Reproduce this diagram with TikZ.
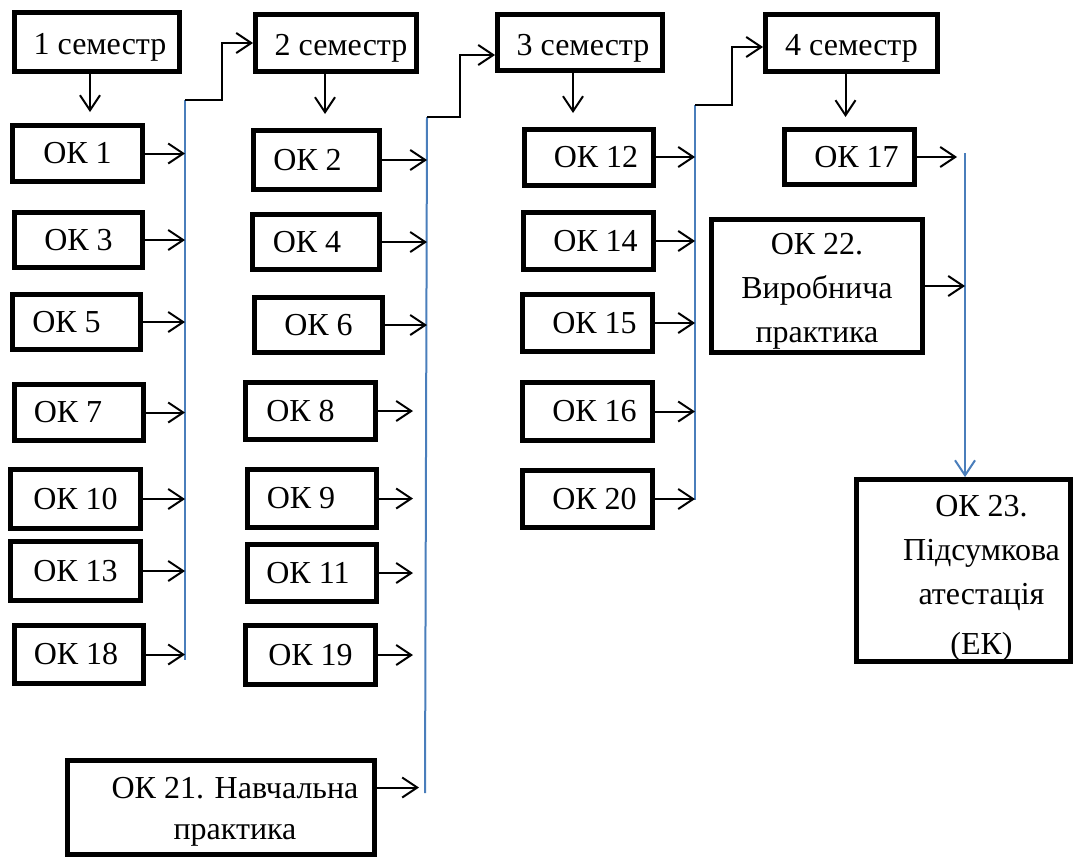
\documentclass[tikz,border=0pt]{standalone}
\usepackage{fontspec}
\setmainfont{Liberation Serif}
\usetikzlibrary{arrows.meta}
\definecolor{lineblue}{RGB}{74,126,187}
\begin{document}
\begin{tikzpicture}[x=1pt,y=-1pt,
  box/.style={draw, line width=5pt, inner sep=0pt, align=center, font=\fontsize{32}{44}\selectfont},
  arr/.style={line width=2pt, -{Straight Barb[length=15pt,width=20pt]}},
  bline/.style={lineblue, line width=2pt}]
\useasboundingbox (0,0) rectangle (1075,857);

% semester boxes
\node[box, minimum width=165pt, minimum height=59pt] (sem1) at (97,42) {\rule{0pt}{32pt}\hspace*{6pt}1 семестр};
\node[box, minimum width=161pt, minimum height=57pt] (sem2) at (336,43) {\rule{0pt}{32pt}\hspace*{10pt}2 семестр};
\node[box, minimum width=165pt, minimum height=56pt] (sem3) at (580,42.5) {\rule{0pt}{32pt}\hspace*{6pt}3 семестр};
\node[box, minimum width=172pt, minimum height=57pt] (sem4) at (851.5,43) {\rule{0pt}{32pt}4 семестр};

% column 1
\node[box, minimum width=130pt, minimum height=56pt] (ok1) at (77.5,153.5) {ОК 1};
\node[box, minimum width=128pt, minimum height=55pt] (ok3) at (78.5,240) {ОК 3};
\node[box, minimum width=128pt, minimum height=55pt] (ok5) at (76.5,322) {ОК 5\hspace*{20pt}};
\node[box, minimum width=129pt, minimum height=56pt] (ok7) at (79,412.5) {ОК 7\hspace*{22pt}};
\node[box, minimum width=130pt, minimum height=59pt] (ok10) at (75.5,499) {ОК 10};
\node[box, minimum width=130pt, minimum height=59pt] (ok13) at (75.5,571) {ОК 13};
\node[box, minimum width=129pt, minimum height=58pt] (ok18) at (79,654.5) {ОК 18\hspace*{6pt}};

% column 2
\node[box, minimum width=126pt, minimum height=59pt] (ok2) at (316.5,160) {ОК 2\hspace*{18pt}};
\node[box, minimum width=127pt, minimum height=55pt] (ok4) at (316,242) {ОК 4\hspace*{18pt}};
\node[box, minimum width=128pt, minimum height=55pt] (ok6) at (318.5,325) {ОК 6};
\node[box, minimum width=130pt, minimum height=57pt] (ok8) at (310.5,411) {ОК 8\hspace*{20pt}};
\node[box, minimum width=129pt, minimum height=58pt] (ok9) at (312,498.5) {ОК 9\hspace*{22pt}};
\node[box, minimum width=129pt, minimum height=57pt] (ok11) at (312,573) {ОК 11\hspace*{8pt}};
\node[box, minimum width=130pt, minimum height=59pt] (ok19) at (310.5,655) {ОК 19};

% column 3
\node[box, minimum width=129pt, minimum height=56pt] (ok12) at (588.5,157) {\hspace*{15pt}ОК 12};
\node[box, minimum width=130pt, minimum height=57pt] (ok14) at (588,241) {\hspace*{15pt}ОК 14};
\node[box, minimum width=130pt, minimum height=57pt] (ok15) at (587.5,323) {\hspace*{14pt}ОК 15};
\node[box, minimum width=130pt, minimum height=58pt] (ok16) at (587.5,411.5) {\hspace*{14pt}ОК 16};
\node[box, minimum width=130pt, minimum height=57pt] (ok20) at (587.5,499) {\hspace*{14pt}ОК 20};

% column 4
\node[box, minimum width=130pt, minimum height=55pt] (ok17) at (849.5,157) {\hspace*{14pt}ОК 17};
\node[box, minimum width=211pt, minimum height=133pt] (ok22) at (817,286) {\rule{0pt}{31pt}ОК 22.\\Виробнича\\практика};
\node[box, minimum width=214pt, minimum height=178pt] (ok23) at (963.5,570.5)
  {\rule{0pt}{37pt}\hspace*{36pt}ОК 23.\\\hspace*{36pt}Підсумкова\\\hspace*{36pt}атестація\\[6pt]\hspace*{36pt}(ЕК)};

% practice
\node[box, minimum width=307pt, minimum height=94pt] (ok21) at (221,807.5)
  {\rule{0pt}{30pt}\hspace*{28pt}ОК 21. Навчальна\\[-3pt]\hspace*{28pt}практика};

% blue collector lines
\coordinate (b1t) at (185,100);
\coordinate (b1b) at (185,660);
\coordinate (b2t) at (427,117);
\coordinate (b2b) at (425,793);
\coordinate (b3t) at (695,105);
\coordinate (b3b) at (695,500);
\coordinate (b4t) at (965,153);
\coordinate (c2) at (413,0);
\coordinate (c4) at (957,0);

\draw[bline] (b1t) -- (b1b);
\draw[bline] (b2t) -- (b2b);
\draw[bline] (b3t) -- (b3b);
\draw[bline, -{Straight Barb[length=15pt,width=20pt]}] (b4t) -- (b4t |- ok23.north);

% semester down arrows
\draw[arr] ([xshift=-7pt]sem1.south) -- ++(0,38);
\draw[arr] ([xshift=-11pt]sem2.south) -- ++(0,40);
\draw[arr] ([xshift=-7pt]sem3.south) -- ++(0,40);
\draw[arr] ([xshift=-6pt]sem4.south) -- ++(0,43);

% step connectors to next semester
\draw[arr] (b1t) -- ++(37,0) |- (sem2.west);
\draw[arr] (b2t) -- ++(33,0) |- ([yshift=-12.5pt]sem3.west);
\draw[arr] (b3t) -- ++(37,0) |- ([yshift=-4pt]sem4.west);

% column 1 arrows
\foreach \n in {ok1,ok3,ok5,ok7,ok10,ok13,ok18}
  \draw[arr] (\n.east) -- (\n.east -| b1t);

% column 2 arrows
\foreach \n in {ok2,ok4,ok6}
  \draw[arr] (\n.east) -- (\n.east -| b2t);
\foreach \n in {ok8,ok9,ok11,ok19}
  \draw[arr] (\n.east) -- (\n.east -| c2);
\draw[arr] ([yshift=20pt]ok21.east) -- ++(42,0);

% column 3 arrows
\foreach \n in {ok12,ok14,ok15,ok16,ok20}
  \draw[arr] (\n.east) -- (\n.east -| b3t);

% column 4 arrows
\draw[arr] (ok17.east) -- (ok17.east -| c4);
\draw[arr] (ok22.east) -- (ok22.east -| b4t);
\end{tikzpicture}
\end{document}
